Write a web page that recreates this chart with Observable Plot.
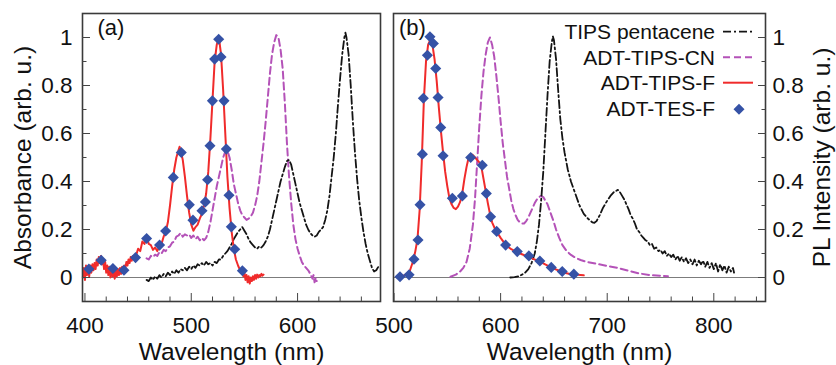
<!DOCTYPE html>
<html><head><meta charset="utf-8">
<script src="https://cdn.jsdelivr.net/npm/d3@7"></script>
<script src="https://cdn.jsdelivr.net/npm/@observablehq/plot@0.6"></script>
<style>
body{margin:0;background:#fff;}
#wrap{position:relative;width:836px;height:365px;}
#wrap svg{position:absolute;top:0;}
</style></head><body><div id="wrap"></div>
<script>
// ---------- (a) Absorbance ----------
const absTipsPentacene = [[458,-0.01],[460,-0.015],[462,0.0],[464,-0.01],[466,0.005],[468,-0.005],[470,0.01],[472,0.0],[474,0.015],[476,0.005],[478,0.02],[480,0.01],[482,0.025],[484,0.015],[486,0.03],[488,0.02],[490,0.035],[492,0.03],[494,0.04],[496,0.03],[498,0.045],[500,0.035],[502,0.05],[504,0.04],[506,0.055],[508,0.05],[510,0.06],[512,0.05],[514,0.065],[516,0.055],[518,0.06],[520,0.05],[522,0.065],[524,0.06],[526,0.075],[528,0.075],[530,0.09],[532,0.1],[534,0.11],[536,0.125],[538,0.14],[540,0.16],[542,0.175],[544,0.19],[546,0.2],[548,0.21],[550,0.195],[552,0.18],[554,0.16],[556,0.145],[558,0.135],[560,0.125],[562,0.12],[564,0.13],[566,0.125],[568,0.135],[570,0.15],[572,0.17],[574,0.2],[576,0.24],[578,0.28],[580,0.32],[582,0.36],[584,0.4],[586,0.43],[588,0.46],[590,0.485],[592,0.49],[594,0.47],[596,0.43],[598,0.39],[600,0.35],[602,0.31],[604,0.28],[606,0.25],[608,0.22],[610,0.2],[612,0.185],[614,0.175],[616,0.17],[618,0.175],[620,0.19],[622,0.2],[624,0.21],[626,0.24],[628,0.28],[630,0.34],[632,0.42],[634,0.5],[636,0.6],[638,0.72],[640,0.83],[642,0.93],[644,1.0],[645,1.02],[646,1.0],[648,0.93],[650,0.8],[652,0.65],[654,0.52],[656,0.41],[658,0.32],[660,0.25],[662,0.19],[664,0.14],[666,0.1],[668,0.07],[670,0.04],[672,0.025],[674,0.03],[676,0.045],[677,0.04]];

const absTipsCN = [[458,0.08],[460,0.075],[462,0.09],[464,0.085],[466,0.095],[468,0.09],[470,0.105],[472,0.1],[474,0.115],[476,0.11],[478,0.125],[480,0.13],[482,0.145],[484,0.15],[486,0.17],[488,0.175],[490,0.185],[492,0.17],[494,0.18],[496,0.175],[498,0.18],[500,0.165],[502,0.175],[504,0.16],[506,0.17],[508,0.155],[510,0.165],[512,0.155],[514,0.165],[516,0.19],[518,0.23],[520,0.28],[522,0.33],[524,0.38],[526,0.42],[528,0.46],[530,0.5],[532,0.525],[534,0.53],[536,0.5],[538,0.45],[540,0.39],[542,0.35],[544,0.31],[546,0.28],[548,0.26],[550,0.25],[552,0.24],[554,0.245],[556,0.255],[558,0.27],[560,0.3],[562,0.34],[564,0.4],[566,0.48],[568,0.56],[570,0.65],[572,0.75],[574,0.85],[576,0.93],[578,0.98],[580,1.01],[582,1.0],[584,0.95],[586,0.87],[588,0.73],[590,0.56],[592,0.42],[594,0.31],[596,0.22],[598,0.16],[600,0.12],[602,0.09],[604,0.065],[606,0.05],[608,0.04],[610,0.03],[612,0.015],[614,-0.005],[615,0.01],[616,-0.02],[617,0.0],[618,-0.015]];

const absTipsF = [[398,0.0],[399,0.04],[400,-0.01],[401,0.05],[402,0.01],[403,0.045],[404,0.005],[405,0.05],[406,0.02],[407,0.055],[408,0.03],[409,0.06],[410,0.035],[411,0.075],[412,0.05],[413,0.085],[414,0.06],[415,0.09],[416,0.055],[417,0.075],[418,0.035],[419,0.065],[420,0.02],[421,0.05],[422,0.01],[423,0.045],[424,0.0],[425,0.04],[426,0.005],[427,0.035],[428,-0.005],[429,0.03],[430,0.005],[431,0.035],[432,0.01],[433,0.04],[434,0.015],[435,0.045],[436,0.025],[437,0.05],[438,0.04],[439,0.065],[440,0.05],[441,0.075],[442,0.06],[443,0.085],[444,0.07],[445,0.09],[446,0.08],[447,0.095],[448,0.09],[450,0.12],[452,0.11],[454,0.15],[456,0.14],[458,0.17],[460,0.14],[462,0.135],[464,0.115],[466,0.125],[468,0.11],[470,0.13],[472,0.14],[474,0.17],[476,0.19],[478,0.23],[480,0.3],[482,0.38],[484,0.45],[486,0.5],[488,0.53],[489,0.545],[490,0.53],[492,0.49],[494,0.42],[496,0.34],[498,0.27],[500,0.22],[502,0.195],[504,0.21],[506,0.22],[508,0.245],[510,0.265],[512,0.3],[514,0.35],[516,0.44],[518,0.58],[520,0.74],[522,0.9],[524,0.97],[526,1.0],[528,0.93],[530,0.78],[532,0.6],[534,0.42],[536,0.29],[538,0.19],[540,0.12],[542,0.075],[544,0.05],[546,0.03],[548,0.025],[549,0.005],[550,0.02],[551,-0.01],[552,0.01],[553,-0.02],[554,0.005],[555,-0.025],[556,0.0],[557,-0.015],[558,0.005],[559,-0.01],[560,0.01],[561,-0.005],[562,0.012],[563,0.0],[564,0.01],[565,0.005],[566,0.015],[567,0.008],[568,0.012]];

const absTesF = [[403.7,0.035],[415.3,0.072],[426.3,0.0375],[436.7,0.03],[447.6,0.083],[458,0.1625],[470.2,0.135],[475.9,0.194],[483.1,0.417],[490.6,0.521],[498.2,0.303],[501.6,0.239],[510.1,0.278],[513.3,0.315],[515.4,0.407],[517.6,0.549],[519.9,0.736],[522,0.91],[525.8,0.993],[528,0.919],[530.8,0.736],[533,0.535],[535.5,0.343],[537.7,0.211],[540.9,0.118],[548.1,0.028]];

// ---------- (b) PL intensity ----------
const plTipsPentacene = [[609,0.0],[613,0.002],[617,0.005],[620,0.012],[623,0.02],[626,0.035],[629,0.06],[632,0.1],[634,0.15],[636,0.22],[638,0.32],[640,0.44],[642,0.6],[644,0.76],[646,0.9],[648,0.98],[649,1.005],[650,0.99],[652,0.91],[654,0.78],[656,0.66],[658,0.58],[660,0.52],[663,0.45],[666,0.4],[670,0.35],[674,0.3],[678,0.265],[682,0.245],[686,0.23],[688,0.228],[690,0.235],[693,0.26],[696,0.29],[700,0.32],[703,0.34],[706,0.355],[708,0.36],[710,0.365],[712,0.355],[714,0.34],[716,0.325],[718,0.305],[720,0.285],[722,0.26],[724,0.245],[726,0.225],[728,0.2],[730,0.19],[732,0.175],[734,0.165],[736,0.155],[738,0.15],[740,0.135],[742,0.14],[744,0.12],[746,0.125],[748,0.11],[750,0.115],[752,0.1],[754,0.11],[756,0.09],[758,0.1],[760,0.085],[762,0.095],[764,0.075],[766,0.09],[768,0.07],[770,0.085],[772,0.065],[774,0.08],[776,0.06],[778,0.075],[780,0.055],[782,0.075],[784,0.05],[786,0.07],[788,0.055],[790,0.07],[792,0.045],[794,0.065],[796,0.04],[798,0.06],[800,0.035],[802,0.06],[804,0.025],[806,0.055],[808,0.03],[810,0.05],[812,0.02],[814,0.045],[816,0.025],[818,0.04],[819,0.02]];

const plTipsCN = [[553,0.003],[558,0.012],[562,0.025],[565,0.04],[568,0.065],[571,0.12],[574,0.22],[576,0.33],[578,0.48],[580,0.63],[582,0.76],[584,0.86],[586,0.93],[588,0.98],[590,1.0],[592,0.97],[594,0.92],[596,0.84],[598,0.75],[600,0.65],[602,0.56],[604,0.49],[606,0.42],[608,0.37],[610,0.32],[612,0.285],[614,0.26],[616,0.24],[618,0.23],[620,0.225],[622,0.225],[624,0.235],[626,0.25],[628,0.27],[630,0.29],[632,0.31],[634,0.325],[636,0.335],[638,0.34],[640,0.335],[642,0.32],[644,0.305],[646,0.28],[648,0.255],[650,0.23],[652,0.2],[655,0.165],[658,0.135],[662,0.11],[666,0.094],[670,0.083],[675,0.073],[680,0.066],[690,0.057],[700,0.048],[710,0.04],[720,0.028],[730,0.017],[740,0.01],[750,0.007],[757,0.005]];

const plTipsF = [[503,0.0],[506,0.003],[509,0.008],[512,0.015],[515,0.03],[518,0.07],[520,0.11],[522,0.16],[524,0.28],[526,0.48],[528,0.74],[530,0.9],[532,0.97],[534,0.99],[536,0.97],[538,0.91],[540,0.82],[542,0.71],[544,0.61],[546,0.52],[548,0.44],[550,0.38],[552,0.33],[554,0.305],[556,0.29],[558,0.285],[560,0.295],[562,0.315],[564,0.35],[566,0.41],[568,0.46],[570,0.5],[572,0.515],[574,0.51],[576,0.5],[578,0.49],[580,0.48],[582,0.46],[584,0.41],[586,0.36],[588,0.31],[590,0.265],[592,0.23],[595,0.2],[600,0.165],[605,0.135],[610,0.118],[615,0.106],[620,0.097],[625,0.088],[630,0.079],[635,0.069],[640,0.059],[645,0.047],[650,0.037],[655,0.028],[660,0.02],[665,0.015],[670,0.012],[675,0.01],[678,0.009]];

const plTesF = [[505.6,0.003],[514.1,0.011],[518.7,0.076],[522.5,0.156],[524.4,0.303],[526.6,0.514],[527.5,0.747],[531.3,0.926],[533.7,1.003],[536.9,0.975],[539.1,0.871],[541.3,0.75],[543.8,0.625],[546,0.507],[554.7,0.33],[564.1,0.34],[571.9,0.5],[582.8,0.468],[586.6,0.35],[590.6,0.253],[596.3,0.192],[604.7,0.135],[615.6,0.108],[626.5,0.09],[636.8,0.069],[647.5,0.042],[657.8,0.025],[668.7,0.014]];

// ---------- ticks & labels ----------
const xMajorA = [400, 500, 600];
const xMinorA = [420, 440, 460, 480, 520, 540, 560, 580, 620, 640, 660];
const xMajorB = [500, 600, 700, 800];
const xMinorB = [520, 540, 560, 580, 620, 640, 660, 680, 720, 740, 760, 780, 820, 840];
const yMajor = [0, 0.2, 0.4, 0.6, 0.8, 1];
const yMinor = [0.1, 0.3, 0.5, 0.7, 0.9];
const seriesNames = ["TIPS pentacene", "ADT-TIPS-CN", "ADT-TIPS-F", "ADT-TES-F"];
const xTitle = "Wavelength (nm)";
const yTitleA = "Absorbance (arb. u.)";
const yTitleB = "PL Intensity (arb. u.)";

const FONT = "'Liberation Sans', Arial, Helvetica, sans-serif";
const C_BLACK = "#141414", C_MAG = "#b452b8", C_RED = "#f02b2b", C_BLUE = "#3552a6";
const DASH_BLACK = "8,3,2,3", DASH_MAG = "7,4";
const fmtY = d => String(+d.toFixed(1));
const X = d => d[0], Y = d => d[1];

function seriesMarks(tp, cn, f, tes) {
  return [
    Plot.ruleY([0], {stroke: "#7c7c7c", strokeWidth: 1.1}),
    Plot.line(cn, {x: X, y: Y, stroke: C_MAG, strokeWidth: 2, strokeDasharray: DASH_MAG}),
    Plot.line(tp, {x: X, y: Y, stroke: C_BLACK, strokeWidth: 1.8, strokeDasharray: DASH_BLACK}),
    Plot.line(f, {x: X, y: Y, stroke: C_RED, strokeWidth: 2}),
    Plot.dot(tes, {x: X, y: Y, symbol: "diamond2", r: 5, fill: C_BLUE, stroke: "none"}),
    Plot.frame({stroke: "#3a3a3a", strokeWidth: 1.6})
  ];
}

const wrap = document.getElementById("wrap");

const plotA = Plot.plot({
  width: 386, height: 365,
  marginLeft: 82, marginRight: 6, marginTop: 13, marginBottom: 64,
  x: {domain: [397.7, 678]},
  y: {domain: [-0.1, 1.1]},
  style: {fontFamily: FONT, fontSize: "22.5px", color: "#111", background: "transparent", overflow: "visible"},
  marks: [
    ...seriesMarks(absTipsPentacene, absTipsCN, absTipsF, absTesF),
    Plot.axisX({ticks: xMajorA, tickSize: 0, tickPadding: 16, label: null, tickFormat: d => String(d)}),
    Plot.axisX({ticks: xMajorA, tickSize: -8, fill: "none", label: null, stroke: "#444"}),
    Plot.axisX({ticks: xMinorA, tickSize: -4.5, fill: "none", label: null, stroke: "#444"}),
    Plot.axisY({ticks: yMajor, tickSize: 0, tickPadding: 10, label: null, tickFormat: fmtY}),
    Plot.axisY({ticks: yMajor, tickSize: -8, fill: "none", label: null, stroke: "#444"}),
    Plot.axisY({ticks: yMinor, tickSize: -4.5, fill: "none", label: null, stroke: "#444"}),
    Plot.text([xTitle], {text: d => d, frameAnchor: "bottom", dy: 51, fontSize: 24.5, textAnchor: "middle", lineAnchor: "middle"}),
    Plot.text([yTitleA], {text: d => d, frameAnchor: "left", dx: -59.5, rotate: -90, fontSize: 24.5, textAnchor: "middle", lineAnchor: "middle"}),
    Plot.text(["(a)"], {text: d => d, frameAnchor: "top-left", dx: 15, dy: 14, textAnchor: "start", lineAnchor: "middle", fontSize: 22})
  ]
});
plotA.style.left = "0px";
wrap.appendChild(plotA);

function legendMark(index, scales, values, dims) {
  const g = d3.create("svg:g").attr("font-family", FONT).attr("font-size", 21).attr("fill", "#111");
  const xr = dims.width - dims.marginRight;
  const yt = dims.marginTop;
  seriesNames.forEach((name, i) => {
    const cy = yt + 18.7 + i * 25.5;
    g.append("text").attr("x", xr - 50).attr("y", cy).attr("dy", "0.35em").attr("text-anchor", "end").text(name);
    if (i < 3) {
      g.append("line").attr("x1", xr - 42).attr("x2", xr - 12).attr("y1", cy).attr("y2", cy)
        .attr("stroke", [C_BLACK, C_MAG, C_RED][i]).attr("stroke-width", i === 0 ? 1.8 : 2)
        .attr("stroke-dasharray", i === 0 ? DASH_BLACK : i === 1 ? DASH_MAG : null);
    } else {
      g.append("path").attr("transform", `translate(${xr - 26},${cy + 1})`)
        .attr("d", "M0,-5.5L5.5,0L0,5.5L-5.5,0Z").attr("fill", C_BLUE);
    }
  });
  return g.node();
}

const plotB = Plot.plot({
  width: 450, height: 365,
  marginLeft: 7, marginRight: 71, marginTop: 13, marginBottom: 64,
  x: {domain: [499.5, 848.5]},
  y: {domain: [-0.1, 1.1]},
  style: {fontFamily: FONT, fontSize: "22.5px", color: "#111", background: "transparent", overflow: "visible"},
  marks: [
    ...seriesMarks(plTipsPentacene, plTipsCN, plTipsF, plTesF),
    Plot.axisX({ticks: xMajorB, tickSize: 0, tickPadding: 16, label: null, tickFormat: d => String(d)}),
    Plot.axisX({ticks: xMajorB, tickSize: -8, fill: "none", label: null, stroke: "#444"}),
    Plot.axisX({ticks: xMinorB, tickSize: -4.5, fill: "none", label: null, stroke: "#444"}),
    Plot.axisY({anchor: "right", ticks: yMajor, tickSize: 0, tickPadding: 7, label: null, tickFormat: fmtY}),
    Plot.axisY({anchor: "right", ticks: yMajor, tickSize: -8, fill: "none", label: null, stroke: "#444"}),
    Plot.axisY({anchor: "right", ticks: yMinor, tickSize: -4.5, fill: "none", label: null, stroke: "#444"}),
    Plot.text([xTitle], {text: d => d, frameAnchor: "bottom", dy: 51, fontSize: 24.5, textAnchor: "middle", lineAnchor: "middle"}),
    Plot.text([yTitleB], {text: d => d, frameAnchor: "right", dx: 56.5, rotate: -90, fontSize: 24.5, textAnchor: "middle", lineAnchor: "middle"}),
    Plot.text(["(b)"], {text: d => d, frameAnchor: "top-left", dx: 5.5, dy: 14, textAnchor: "start", lineAnchor: "middle", fontSize: 22}),
    legendMark
  ]
});
plotB.style.left = "386px";
wrap.appendChild(plotB);
</script>
</body></html>
